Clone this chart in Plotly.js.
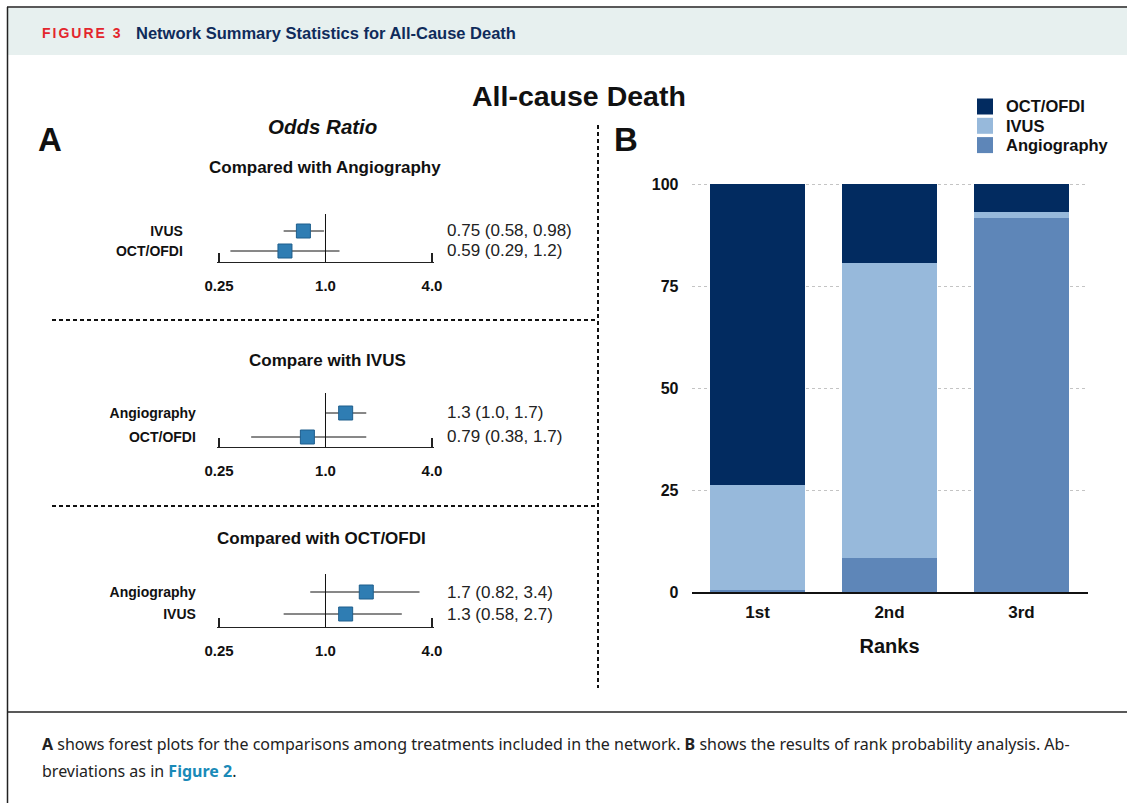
<!DOCTYPE html>
<html>
<head>
<meta charset="utf-8">
<script src="https://cdn.plot.ly/plotly-3.0.1.min.js"></script>
<style>html,body{margin:0;padding:0;background:#fff;}#chart{width:1127px;height:803px;}</style>
</head>
<body>
<div id="chart"></div>
<script>
// ---------- data ----------
const forestTitles = ['Compared with Angiography', 'Compare with IVUS', 'Compared with OCT/OFDI'];
const f1Labels = ['IVUS', 'OCT/OFDI'];
const f1OR = [0.75, 0.59];
const f1Lo = [0.58, 0.29];
const f1Hi = [0.98, 1.2];
const f2Labels = ['Angiography', 'OCT/OFDI'];
const f2OR = [1.3, 0.79];
const f2Lo = [1.0, 0.38];
const f2Hi = [1.7, 1.7];
const f3Labels = ['Angiography', 'IVUS'];
const f3OR = [1.7, 1.3];
const f3Lo = [0.82, 0.58];
const f3Hi = [3.4, 2.7];
const orTicks = [0.25, 1, 4];
const orTickText = ['0.25', '1.0', '4.0'];

const ranks = ['1st', '2nd', '3rd'];
const octProb = [73.8, 19.4, 6.9];
const ivusProb = [25.7, 72.3, 1.5];
const angioProb = [0.5, 8.3, 91.6];
const probTicks = [0, 25, 50, 75, 100];

// ---------- helpers ----------
const W = 1127, H = 803;
const px = x => x / W;
const py = y => 1 - y / H;
const FONT = 'Liberation Sans, Arial, Helvetica, sans-serif';
const fmt = v => Number.isInteger(v) ? v.toFixed(1) : String(v);

const forests = [
  {labels: f1Labels, or: f1OR, lo: f1Lo, hi: f1Hi, g: {top: 214, bottom: 262, r0: 231, r1: 251, head: 168, headX: 325, stand: 33}},
  {labels: f2Labels, or: f2OR, lo: f2Lo, hi: f2Hi, g: {top: 393, bottom: 447, r0: 413, r1: 437, head: 360, headX: 327, stand: 20}},
  {labels: f3Labels, or: f3OR, lo: f3Lo, hi: f3Hi, g: {top: 574, bottom: 627, r0: 592, r1: 614, head: 538, headX: 321, stand: 20}}
];

// forest x-axis: 0.25 at 219px, 4.0 at 432px, padded slightly so end ticks are kept
const lx0 = Math.log10(0.25), lx1 = Math.log10(4);
const pxPerLog = (432 - 219) / (lx1 - lx0);
const pad = 0.012;

const data = [];
const layout = {
  width: W, height: H,
  margin: {l: 0, r: 0, t: 0, b: 0},
  paper_bgcolor: '#ffffff',
  plot_bgcolor: 'rgba(0,0,0,0)',
  font: {family: FONT, color: '#111'},
  showlegend: false,
  barmode: 'stack',
  bargap: 0.28,
  shapes: [],
  annotations: []
};

forests.forEach((f, i) => {
  const n = i + 1;
  const xa = 'xaxis' + n, ya = 'yaxis' + n;
  const g = f.g;
  const s = g.r1 - g.r0;
  const catArr = [f.labels[1], f.labels[0]];
  data.push({
    type: 'scatter', mode: 'markers',
    x: f.or, y: f.labels,
    xaxis: 'x' + n, yaxis: 'y' + n,
    marker: {symbol: 'square', size: 14, color: '#2f7db3', line: {color: '#1f5e8c', width: 1}},
    error_x: {
      type: 'data', symmetric: false,
      array: f.hi.map((h, k) => h - f.or[k]),
      arrayminus: f.lo.map((l, k) => f.or[k] - l),
      color: '#111', thickness: 1, width: 0
    },
    showlegend: false, hoverinfo: 'x+y'
  });
  layout[xa] = {
    type: 'log', range: [lx0 - pad, lx1 + pad],
    domain: [px(219 - pad * pxPerLog), px(432 + pad * pxPerLog)], anchor: 'y' + n,
    tickmode: 'array', tickvals: orTicks, ticktext: orTickText,
    ticks: 'inside', ticklen: 9, tickwidth: 1.2, tickcolor: '#222',
    showline: true, linecolor: '#222', linewidth: 1,
    showgrid: false, zeroline: false,
    tickfont: {family: FONT, size: 15, weight: 'bold', color: '#111'},
    ticklabelstandoff: 10, fixedrange: true
  };
  layout[ya] = {
    type: 'category', categoryorder: 'array', categoryarray: catArr,
    range: [-(g.bottom - g.r1) / s, 1 + (g.r0 - g.top) / s],
    domain: [py(g.bottom), py(g.top)], anchor: 'x' + n,
    showline: false, showgrid: false, zeroline: false, ticks: '',
    tickfont: {family: FONT, size: 14, weight: 'bold', color: '#111'},
    ticklabelstandoff: g.stand, fixedrange: true
  };
  // reference line at OR = 1
  layout.shapes.push({type: 'line', xref: 'x' + n, yref: 'y' + n + ' domain', x0: 1, x1: 1, y0: 0, y1: 1,
    line: {color: '#111', width: 1}});
  // header
  layout.annotations.push({xref: 'paper', yref: 'paper', x: px(g.headX), y: py(g.head), xanchor: 'center', yanchor: 'middle',
    text: '<b>' + forestTitles[i] + '</b>', showarrow: false, font: {family: FONT, size: 17, color: '#111'}});
  // value text
  f.labels.forEach((lab, k) => {
    layout.annotations.push({xref: 'paper', yref: 'y' + n, x: px(445), y: catArr.indexOf(lab), xanchor: 'left', yanchor: 'middle',
      text: fmt(f.or[k]) + ' (' + fmt(f.lo[k]) + ', ' + fmt(f.hi[k]) + ')', showarrow: false,
      font: {family: FONT, size: 17, color: '#222'}});
  });
});

// stacked bars
const barSeries = [
  {name: 'Angiography', y: angioProb, color: '#5e86b8'},
  {name: 'IVUS', y: ivusProb, color: '#97b9db'},
  {name: 'OCT/OFDI', y: octProb, color: '#022b60'}
];
barSeries.forEach(b => data.push({
  type: 'bar', name: b.name, x: ranks, y: b.y, xaxis: 'x4', yaxis: 'y4',
  marker: {color: b.color, line: {width: 0}}, hoverinfo: 'name+y'
}));
layout.xaxis4 = {
  type: 'category', domain: [px(691.5), px(1087.5)], anchor: 'y4',
  showline: true, linecolor: '#111', linewidth: 1.5, ticks: '',
  showgrid: false, zeroline: false,
  tickfont: {family: FONT, size: 17, weight: 'bold', color: '#111'},
  ticklabelstandoff: 4,
  title: {text: '<b>Ranks</b>', font: {family: FONT, size: 20, color: '#111'}, standoff: 18},
  fixedrange: true
};
layout.yaxis4 = {
  range: [0, 100.4], domain: [py(592), py(182.4)], anchor: 'x4',
  tickmode: 'array', tickvals: probTicks,
  showline: false, ticks: '', zeroline: false,
  showgrid: true, gridcolor: '#c4c4c4', griddash: 'dot', gridwidth: 1,
  tickfont: {family: FONT, size: 16, weight: 'bold', color: '#111'},
  ticklabelstandoff: 12, fixedrange: true
};

// legend (drawn from the series list, top series first)
barSeries.slice().reverse().forEach((b, k) => {
  const cy = 106.5 + k * 19.3;
  layout.shapes.push({type: 'rect', xref: 'paper', yref: 'paper', x0: px(977), x1: px(993), y0: py(cy + 8), y1: py(cy - 8),
    fillcolor: b.color, line: {width: 0}});
  layout.annotations.push({xref: 'paper', yref: 'paper', x: px(1004), y: py(cy), xanchor: 'left', yanchor: 'middle',
    text: '<b>' + b.name + '</b>', showarrow: false, font: {family: FONT, size: 16.5, color: '#111'}});
});

// frame & decorations
layout.shapes.push(
  {type: 'rect', xref: 'paper', yref: 'paper', x0: px(8), x1: 1, y0: py(55), y1: py(8), fillcolor: '#e7f0ef', line: {width: 0}, layer: 'below'},
  {type: 'line', xref: 'paper', yref: 'paper', x0: px(7), x1: 1, y0: py(7), y1: py(7), line: {color: '#222', width: 1.5}},
  {type: 'line', xref: 'paper', yref: 'paper', x0: px(7.5), x1: px(7.5), y0: py(7), y1: 0, line: {color: '#222', width: 1.5}},
  {type: 'line', xref: 'paper', yref: 'paper', x0: px(7), x1: 1, y0: py(712), y1: py(712), line: {color: '#222', width: 1.5}},
  {type: 'line', xref: 'paper', yref: 'paper', x0: px(52), x1: px(598), y0: py(320), y1: py(320), line: {color: '#111', width: 2, dash: '4px,3px'}},
  {type: 'line', xref: 'paper', yref: 'paper', x0: px(52), x1: px(598), y0: py(506), y1: py(506), line: {color: '#111', width: 2, dash: '4px,3px'}},
  {type: 'line', xref: 'paper', yref: 'paper', x0: px(598), x1: px(598), y0: py(125), y1: py(688), line: {color: '#111', width: 2, dash: '4px,3px'}}
);

const ann = (x, y, text, size, opts) => Object.assign({xref: 'paper', yref: 'paper', x: px(x), y: py(y), text: text,
  showarrow: false, xanchor: 'center', yanchor: 'middle', font: {family: FONT, size: size, color: '#111'}}, opts || {});

layout.annotations.push(
  ann(40, 33, '<b><span style="letter-spacing:2px">FIGURE 3</span></b>', 14, {xanchor: 'left', font: {family: FONT, size: 14, color: '#e3262d'}}),
  ann(134, 33, '<b>Network Summary Statistics for All-Cause Death</b>', 16.5, {xanchor: 'left', font: {family: FONT, size: 16.5, color: '#0f2b5b'}}),
  ann(579, 96, '<b>All-cause Death</b>', 28.5),
  ann(50, 139, '<b>A</b>', 33),
  ann(626, 139, '<b>B</b>', 33),
  ann(322, 127, '<b><i>Odds Ratio</i></b>', 20.5),
  ann(40, 744, '<b>A</b> shows forest plots for the comparisons among treatments included in the network. <b>B</b> shows the results of rank probability analysis. Ab-', 16,
    {xanchor: 'left', font: {family: 'Noto Sans, sans-serif', size: 16, color: '#222'}}),
  ann(40, 771, 'breviations as in <b><span style="color:#1a8ab8">Figure 2</span></b>.', 16,
    {xanchor: 'left', font: {family: 'Noto Sans, sans-serif', size: 16, color: '#222'}})
);

Plotly.newPlot('chart', data, layout, {displayModeBar: false, staticPlot: true});
</script>
</body>
</html>
